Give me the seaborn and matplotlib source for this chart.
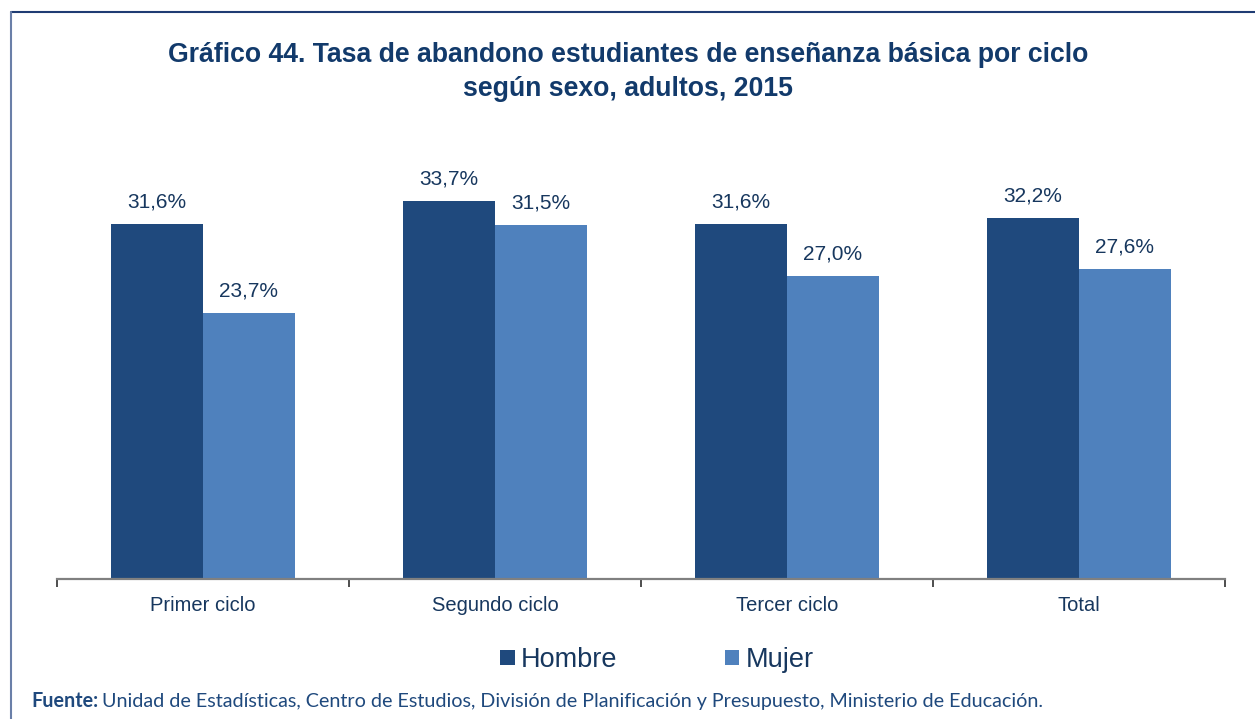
import matplotlib
matplotlib.use("Agg")
import matplotlib.pyplot as plt
from matplotlib.lines import Line2D
from matplotlib.patches import Patch
import seaborn as sns
import pandas as pd

# Data
ciclos = ["Primer ciclo", "Segundo ciclo", "Tercer ciclo", "Total"]
hombre = [31.6, 33.7, 31.6, 32.2]
mujer = [23.7, 31.5, 27.0, 27.6]
series = ["Hombre", "Mujer"]
colores = ["#1F497D", "#4F81BD"]

title = ("Gráfico 44. Tasa de abandono estudiantes de enseñanza básica por ciclo\n"
         "según sexo, adultos, 2015")
fuente_bold = "Fuente:"
fuente_text = ("Unidad de Estadísticas, Centro de Estudios, División de Planificación "
               "y Presupuesto, Ministerio de Educación.")

df = pd.DataFrame({
    "ciclo": ciclos * 2,
    "sexo": [series[0]] * len(ciclos) + [series[1]] * len(ciclos),
    "valor": hombre + mujer,
})

sns.set_style("white")
plt.rcParams["font.family"] = ["Liberation Sans", "DejaVu Sans"]

W, H = 1255, 719
fig = plt.figure(figsize=(W / 100, H / 100), dpi=100)
ax = fig.add_axes([57 / W, 1 - 579 / H, (1225 - 57) / W, (579 - 130) / H])

sns.barplot(data=df, x="ciclo", y="valor", hue="sexo", palette=colores,
            width=0.63, saturation=1, ax=ax, legend=False, errorbar=None,
            linewidth=0)

navy = "#17375E"
for cont in ax.containers:
    ax.bar_label(cont, labels=[f"{b.get_height():.1f}%".replace(".", ",") for b in cont],
                 padding=9, fontsize=15, color=navy)

ax.set_ylim(0, 40)
ax.set_xlim(-0.5, len(ciclos) - 0.5)
ax.set_xlabel("")
ax.set_ylabel("")
ax.set_yticks([])
for s in ["top", "right", "left"]:
    ax.spines[s].set_visible(False)
ax.spines["bottom"].set_color("#808080")
ax.spines["bottom"].set_linewidth(1.6)

# category boundaries get the tick marks, labels sit at centres
ax.set_xticks([i - 0.5 for i in range(len(ciclos) + 1)], minor=False)
ax.set_xticklabels([""] * (len(ciclos) + 1))
ax.set_xticks(range(len(ciclos)), minor=True)
ax.set_xticklabels(ciclos, minor=True, fontsize=14.5, color=navy)
ax.tick_params(axis="x", which="major", bottom=True, direction="out", length=6,
               width=1.2, color="#303030")
ax.tick_params(axis="x", which="minor", bottom=True, length=0, pad=12)

fig.text(628 / W, 1 - 72 / H, title, ha="center", va="center", fontsize=19.2,
         fontweight="bold", color="#123A6B", linespacing=1.37)

handles = [Patch(facecolor=c, edgecolor="none") for c in colores]
fig.legend(handles, series, loc="center", bbox_to_anchor=(657 / W, 1 - 660 / H),
           ncol=2, frameon=False, fontsize=19.5, handlelength=0.52, handleheight=0.52,
           handletextpad=0.22, columnspacing=4.0, labelcolor="#17375E")

foot_y = 1 - 707 / H
t = fig.text(31 / W, foot_y, fuente_bold, ha="left", va="baseline", fontsize=14.2,
             fontweight="bold", color="#1F497D", family=["Lato", "DejaVu Sans"])
fig.canvas.draw()
bb = t.get_window_extent()
fig.text((bb.x1 + 4) / W, foot_y, fuente_text, ha="left", va="baseline", fontsize=14.2,
         color="#1F497D", family=["Lato", "DejaVu Sans"])

# frame lines along top and left edge
fig.add_artist(Line2D([11 / W, 1], [1 - 12 / H, 1 - 12 / H], transform=fig.transFigure,
                      color="#1F3C73", lw=1.5))
fig.add_artist(Line2D([11 / W, 11 / W], [0, 1 - 12 / H], transform=fig.transFigure,
                      color="#6A7FA8", lw=1.5))

fig.savefig("out.png", dpi=100)
